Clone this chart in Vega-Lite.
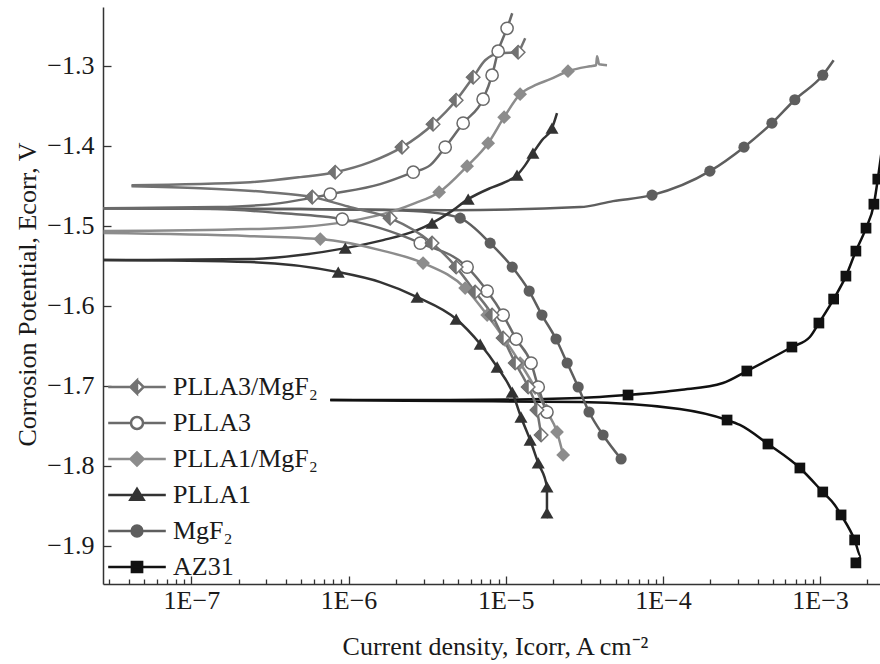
{
  "$schema": "https://vega.github.io/schema/vega-lite/v6.json",
  "width": 777,
  "height": 577,
  "autosize": {"type": "none"},
  "padding": {"left": 103, "top": 7, "right": 0, "bottom": 80},
  "background": "white",
  "config": {
    "view": {"stroke": null},
    "axis": {
      "labelFont": "Liberation Serif", "titleFont": "Liberation Serif",
      "labelFontSize": 26, "titleFontSize": 26, "titleFontWeight": "normal",
      "labelColor": "#1a1a1a", "titleColor": "#1a1a1a",
      "domainColor": "#333333", "tickColor": "#333333", "domainWidth": 1.5, "tickWidth": 1.3,
      "grid": false
    }
  },
  "datasets": {
    "lines": [
      {"series":"AZ31","branch":"a","i":0,"I":7.65e-7,"E":-1.7179},
      {"series":"AZ31","branch":"a","i":1,"I":4.43e-6,"E":-1.7179},
      {"series":"AZ31","branch":"a","i":2,"I":2.97e-5,"E":-1.7154},
      {"series":"AZ31","branch":"a","i":3,"I":6.00e-5,"E":-1.7116},
      {"series":"AZ31","branch":"a","i":4,"I":1.28e-4,"E":-1.7054},
      {"series":"AZ31","branch":"a","i":5,"I":2.41e-4,"E":-1.6966},
      {"series":"AZ31","branch":"a","i":6,"I":3.42e-4,"E":-1.6816},
      {"series":"AZ31","branch":"a","i":7,"I":6.62e-4,"E":-1.6516},
      {"series":"AZ31","branch":"a","i":8,"I":8.61e-4,"E":-1.6391},
      {"series":"AZ31","branch":"a","i":9,"I":9.83e-4,"E":-1.6216},
      {"series":"AZ31","branch":"a","i":10,"I":1.22e-3,"E":-1.5916},
      {"series":"AZ31","branch":"a","i":11,"I":1.46e-3,"E":-1.5629},
      {"series":"AZ31","branch":"a","i":12,"I":1.69e-3,"E":-1.5316},
      {"series":"AZ31","branch":"a","i":13,"I":1.96e-3,"E":-1.5029},
      {"series":"AZ31","branch":"a","i":14,"I":2.20e-3,"E":-1.4729},
      {"series":"AZ31","branch":"a","i":15,"I":2.33e-3,"E":-1.4416},
      {"series":"AZ31","branch":"a","i":16,"I":2.47e-3,"E":-1.4054},
      {"series":"AZ31","branch":"c","i":0,"I":7.65e-7,"E":-1.7179},
      {"series":"AZ31","branch":"c","i":1,"I":4.43e-6,"E":-1.7191},
      {"series":"AZ31","branch":"c","i":2,"I":2.97e-5,"E":-1.7204},
      {"series":"AZ31","branch":"c","i":3,"I":1.28e-4,"E":-1.7291},
      {"series":"AZ31","branch":"c","i":4,"I":2.56e-4,"E":-1.7429},
      {"series":"AZ31","branch":"c","i":5,"I":3.09e-4,"E":-1.7491},
      {"series":"AZ31","branch":"c","i":6,"I":4.66e-4,"E":-1.7729},
      {"series":"AZ31","branch":"c","i":7,"I":7.44e-4,"E":-1.8029},
      {"series":"AZ31","branch":"c","i":8,"I":1.04e-3,"E":-1.8329},
      {"series":"AZ31","branch":"c","i":9,"I":1.24e-3,"E":-1.8491},
      {"series":"AZ31","branch":"c","i":10,"I":1.36e-3,"E":-1.8616},
      {"series":"AZ31","branch":"c","i":11,"I":1.66e-3,"E":-1.8929},
      {"series":"AZ31","branch":"c","i":12,"I":1.82e-3,"E":-1.9141},
      {"series":"AZ31","branch":"c","i":13,"I":1.69e-3,"E":-1.9216},

      {"series":"MgF₂","branch":"a","i":0,"I":2.76e-8,"E":-1.4779},
      {"series":"MgF₂","branch":"a","i":1,"I":4.93e-7,"E":-1.4791},
      {"series":"MgF₂","branch":"a","i":2,"I":4.43e-6,"E":-1.4804},
      {"series":"MgF₂","branch":"a","i":3,"I":2.97e-5,"E":-1.4766},
      {"series":"MgF₂","branch":"a","i":4,"I":4.82e-5,"E":-1.4691},
      {"series":"MgF₂","branch":"a","i":5,"I":8.53e-5,"E":-1.4616},
      {"series":"MgF₂","branch":"a","i":6,"I":1.99e-4,"E":-1.4316},
      {"series":"MgF₂","branch":"a","i":7,"I":3.28e-4,"E":-1.4016},
      {"series":"MgF₂","branch":"a","i":8,"I":4.94e-4,"E":-1.3716},
      {"series":"MgF₂","branch":"a","i":9,"I":6.91e-4,"E":-1.3423},
      {"series":"MgF₂","branch":"a","i":10,"I":1.04e-3,"E":-1.3116},
      {"series":"MgF₂","branch":"a","i":11,"I":1.22e-3,"E":-1.2929},
      {"series":"MgF₂","branch":"c","i":0,"I":2.76e-8,"E":-1.4779},
      {"series":"MgF₂","branch":"c","i":1,"I":4.93e-7,"E":-1.4791},
      {"series":"MgF₂","branch":"c","i":2,"I":1.84e-6,"E":-1.4804},
      {"series":"MgF₂","branch":"c","i":3,"I":3.31e-6,"E":-1.4829},
      {"series":"MgF₂","branch":"c","i":4,"I":5.13e-6,"E":-1.4904},
      {"series":"MgF₂","branch":"c","i":5,"I":7.96e-6,"E":-1.5216},
      {"series":"MgF₂","branch":"c","i":6,"I":1.10e-5,"E":-1.5516},
      {"series":"MgF₂","branch":"c","i":7,"I":1.41e-5,"E":-1.5816},
      {"series":"MgF₂","branch":"c","i":8,"I":1.70e-5,"E":-1.6116},
      {"series":"MgF₂","branch":"c","i":9,"I":2.09e-5,"E":-1.6416},
      {"series":"MgF₂","branch":"c","i":10,"I":2.46e-5,"E":-1.6716},
      {"series":"MgF₂","branch":"c","i":11,"I":2.89e-5,"E":-1.7016},
      {"series":"MgF₂","branch":"c","i":12,"I":3.39e-5,"E":-1.7329},
      {"series":"MgF₂","branch":"c","i":13,"I":4.16e-5,"E":-1.7616},
      {"series":"MgF₂","branch":"c","i":14,"I":5.42e-5,"E":-1.7916},

      {"series":"PLLA1","branch":"a","i":0,"I":2.76e-8,"E":-1.5429},
      {"series":"PLLA1","branch":"a","i":1,"I":2.37e-7,"E":-1.5416},
      {"series":"PLLA1","branch":"a","i":2,"I":4.93e-7,"E":-1.5366},
      {"series":"PLLA1","branch":"a","i":3,"I":9.53e-7,"E":-1.5279},
      {"series":"PLLA1","branch":"a","i":4,"I":1.66e-6,"E":-1.5179},
      {"series":"PLLA1","branch":"a","i":5,"I":2.73e-6,"E":-1.5054},
      {"series":"PLLA1","branch":"a","i":6,"I":3.40e-6,"E":-1.4966},
      {"series":"PLLA1","branch":"a","i":7,"I":4.43e-6,"E":-1.4829},
      {"series":"PLLA1","branch":"a","i":8,"I":5.77e-6,"E":-1.4666},
      {"series":"PLLA1","branch":"a","i":9,"I":7.96e-6,"E":-1.4529},
      {"series":"PLLA1","branch":"a","i":10,"I":9.91e-6,"E":-1.4454},
      {"series":"PLLA1","branch":"a","i":11,"I":1.18e-5,"E":-1.4366},
      {"series":"PLLA1","branch":"a","i":12,"I":1.33e-5,"E":-1.4241},
      {"series":"PLLA1","branch":"a","i":13,"I":1.49e-5,"E":-1.4091},
      {"series":"PLLA1","branch":"a","i":14,"I":1.70e-5,"E":-1.3929},
      {"series":"PLLA1","branch":"a","i":15,"I":1.97e-5,"E":-1.3779},
      {"series":"PLLA1","branch":"a","i":16,"I":2.12e-5,"E":-1.3591},
      {"series":"PLLA1","branch":"c","i":0,"I":2.76e-8,"E":-1.5429},
      {"series":"PLLA1","branch":"c","i":1,"I":2.37e-7,"E":-1.5454},
      {"series":"PLLA1","branch":"c","i":2,"I":8.60e-7,"E":-1.5579},
      {"series":"PLLA1","branch":"c","i":3,"I":1.59e-6,"E":-1.5704},
      {"series":"PLLA1","branch":"c","i":4,"I":2.73e-6,"E":-1.5891},
      {"series":"PLLA1","branch":"c","i":5,"I":4.84e-6,"E":-1.6166},
      {"series":"PLLA1","branch":"c","i":6,"I":6.88e-6,"E":-1.6479},
      {"series":"PLLA1","branch":"c","i":7,"I":8.82e-6,"E":-1.6766},
      {"series":"PLLA1","branch":"c","i":8,"I":1.10e-5,"E":-1.7079},
      {"series":"PLLA1","branch":"c","i":9,"I":1.25e-5,"E":-1.7391},
      {"series":"PLLA1","branch":"c","i":10,"I":1.43e-5,"E":-1.7679},
      {"series":"PLLA1","branch":"c","i":11,"I":1.61e-5,"E":-1.7966},
      {"series":"PLLA1","branch":"c","i":12,"I":1.83e-5,"E":-1.8266},
      {"series":"PLLA1","branch":"c","i":13,"I":1.83e-5,"E":-1.8591},
      {"series":"PLLA1","branch":"c","i":14,"I":1.86e-5,"E":-1.8654},

      {"series":"PLLA1/MgF₂","branch":"a","i":0,"I":2.76e-8,"E":-1.5066},
      {"series":"PLLA1/MgF₂","branch":"a","i":1,"I":2.37e-7,"E":-1.5041},
      {"series":"PLLA1/MgF₂","branch":"a","i":2,"I":4.93e-7,"E":-1.5016},
      {"series":"PLLA1/MgF₂","branch":"a","i":3,"I":1.025e-6,"E":-1.4941},
      {"series":"PLLA1/MgF₂","branch":"a","i":4,"I":1.92e-6,"E":-1.4816},
      {"series":"PLLA1/MgF₂","branch":"a","i":5,"I":2.65e-6,"E":-1.4716},
      {"series":"PLLA1/MgF₂","branch":"a","i":6,"I":3.77e-6,"E":-1.4579},
      {"series":"PLLA1/MgF₂","branch":"a","i":7,"I":5.68e-6,"E":-1.4254},
      {"series":"PLLA1/MgF₂","branch":"a","i":8,"I":7.73e-6,"E":-1.3966},
      {"series":"PLLA1/MgF₂","branch":"a","i":9,"I":9.77e-6,"E":-1.3641},
      {"series":"PLLA1/MgF₂","branch":"a","i":10,"I":1.235e-5,"E":-1.3354},
      {"series":"PLLA1/MgF₂","branch":"a","i":11,"I":1.54e-5,"E":-1.3241},
      {"series":"PLLA1/MgF₂","branch":"a","i":12,"I":1.92e-5,"E":-1.3166},
      {"series":"PLLA1/MgF₂","branch":"a","i":13,"I":2.49e-5,"E":-1.3066},
      {"series":"PLLA1/MgF₂","branch":"a","i":14,"I":3.44e-5,"E":-1.3004},
      {"series":"PLLA1/MgF₂","branch":"a","i":15,"I":3.76e-5,"E":-1.2991},
      {"series":"PLLA1/MgF₂","branch":"a","i":16,"I":3.81e-5,"E":-1.2879},
      {"series":"PLLA1/MgF₂","branch":"a","i":17,"I":3.93e-5,"E":-1.2979},
      {"series":"PLLA1/MgF₂","branch":"a","i":18,"I":4.41e-5,"E":-1.2991},
      {"series":"PLLA1/MgF₂","branch":"c","i":0,"I":2.76e-8,"E":-1.5091},
      {"series":"PLLA1/MgF₂","branch":"c","i":1,"I":2.37e-7,"E":-1.5129},
      {"series":"PLLA1/MgF₂","branch":"c","i":2,"I":6.61e-7,"E":-1.5166},
      {"series":"PLLA1/MgF₂","branch":"c","i":3,"I":1.59e-6,"E":-1.5304},
      {"series":"PLLA1/MgF₂","branch":"c","i":4,"I":2.98e-6,"E":-1.5466},
      {"series":"PLLA1/MgF₂","branch":"c","i":5,"I":5.52e-6,"E":-1.5779},
      {"series":"PLLA1/MgF₂","branch":"c","i":6,"I":7.62e-6,"E":-1.6116},
      {"series":"PLLA1/MgF₂","branch":"c","i":7,"I":9.91e-6,"E":-1.6429},
      {"series":"PLLA1/MgF₂","branch":"c","i":8,"I":1.235e-5,"E":-1.6716},
      {"series":"PLLA1/MgF₂","branch":"c","i":9,"I":1.54e-5,"E":-1.7029},
      {"series":"PLLA1/MgF₂","branch":"c","i":10,"I":1.81e-5,"E":-1.7304},
      {"series":"PLLA1/MgF₂","branch":"c","i":11,"I":2.12e-5,"E":-1.7579},
      {"series":"PLLA1/MgF₂","branch":"c","i":12,"I":2.32e-5,"E":-1.7866},

      {"series":"PLLA3","branch":"a","i":0,"I":2.76e-8,"E":-1.4779},
      {"series":"PLLA3","branch":"a","i":1,"I":1.46e-7,"E":-1.4766},
      {"series":"PLLA3","branch":"a","i":2,"I":3.68e-7,"E":-1.4716},
      {"series":"PLLA3","branch":"a","i":3,"I":7.65e-7,"E":-1.4604},
      {"series":"PLLA3","branch":"a","i":4,"I":1.59e-6,"E":-1.4479},
      {"series":"PLLA3","branch":"a","i":5,"I":2.58e-6,"E":-1.4329},
      {"series":"PLLA3","branch":"a","i":6,"I":3.31e-6,"E":-1.4241},
      {"series":"PLLA3","branch":"a","i":7,"I":4.12e-6,"E":-1.4016},
      {"series":"PLLA3","branch":"a","i":8,"I":5.36e-6,"E":-1.3716},
      {"series":"PLLA3","branch":"a","i":9,"I":7.18e-6,"E":-1.3416},
      {"series":"PLLA3","branch":"a","i":10,"I":8.19e-6,"E":-1.3116},
      {"series":"PLLA3","branch":"a","i":11,"I":8.95e-6,"E":-1.2816},
      {"series":"PLLA3","branch":"a","i":12,"I":1.02e-5,"E":-1.2529},
      {"series":"PLLA3","branch":"a","i":13,"I":1.10e-5,"E":-1.2341},
      {"series":"PLLA3","branch":"c","i":0,"I":2.76e-8,"E":-1.4779},
      {"series":"PLLA3","branch":"c","i":1,"I":1.46e-7,"E":-1.4791},
      {"series":"PLLA3","branch":"c","i":2,"I":3.68e-7,"E":-1.4841},
      {"series":"PLLA3","branch":"c","i":3,"I":9.12e-7,"E":-1.4916},
      {"series":"PLLA3","branch":"c","i":4,"I":1.59e-6,"E":-1.5029},
      {"series":"PLLA3","branch":"c","i":5,"I":2.86e-6,"E":-1.5216},
      {"series":"PLLA3","branch":"c","i":6,"I":5.68e-6,"E":-1.5516},
      {"series":"PLLA3","branch":"c","i":7,"I":7.62e-6,"E":-1.5816},
      {"series":"PLLA3","branch":"c","i":8,"I":9.63e-6,"E":-1.6116},
      {"series":"PLLA3","branch":"c","i":9,"I":1.165e-5,"E":-1.6416},
      {"series":"PLLA3","branch":"c","i":10,"I":1.45e-5,"E":-1.6716},
      {"series":"PLLA3","branch":"c","i":11,"I":1.61e-5,"E":-1.7016},
      {"series":"PLLA3","branch":"c","i":12,"I":1.83e-5,"E":-1.7329},
      {"series":"PLLA3","branch":"c","i":13,"I":1.92e-5,"E":-1.7404},

      {"series":"PLLA3/MgF₂","branch":"a","i":0,"I":4.16e-8,"E":-1.4491},
      {"series":"PLLA3/MgF₂","branch":"a","i":1,"I":2.37e-7,"E":-1.4454},
      {"series":"PLLA3/MgF₂","branch":"a","i":2,"I":4.93e-7,"E":-1.4391},
      {"series":"PLLA3/MgF₂","branch":"a","i":3,"I":8.23e-7,"E":-1.4329},
      {"series":"PLLA3/MgF₂","branch":"a","i":4,"I":1.37e-6,"E":-1.4204},
      {"series":"PLLA3/MgF₂","branch":"a","i":5,"I":2.19e-6,"E":-1.4016},
      {"series":"PLLA3/MgF₂","branch":"a","i":6,"I":3.45e-6,"E":-1.3729},
      {"series":"PLLA3/MgF₂","branch":"a","i":7,"I":4.84e-6,"E":-1.3429},
      {"series":"PLLA3/MgF₂","branch":"a","i":8,"I":6.21e-6,"E":-1.3141},
      {"series":"PLLA3/MgF₂","branch":"a","i":9,"I":7.40e-6,"E":-1.2929},
      {"series":"PLLA3/MgF₂","branch":"a","i":10,"I":9.21e-6,"E":-1.2841},
      {"series":"PLLA3/MgF₂","branch":"a","i":11,"I":1.20e-5,"E":-1.2829},
      {"series":"PLLA3/MgF₂","branch":"a","i":12,"I":1.27e-5,"E":-1.2741},
      {"series":"PLLA3/MgF₂","branch":"a","i":13,"I":1.33e-5,"E":-1.2654},
      {"series":"PLLA3/MgF₂","branch":"c","i":0,"I":4.16e-8,"E":-1.4504},
      {"series":"PLLA3/MgF₂","branch":"c","i":1,"I":1.14e-7,"E":-1.4529},
      {"series":"PLLA3/MgF₂","branch":"c","i":2,"I":3.04e-7,"E":-1.4579},
      {"series":"PLLA3/MgF₂","branch":"c","i":3,"I":5.88e-7,"E":-1.4641},
      {"series":"PLLA3/MgF₂","branch":"c","i":4,"I":1.025e-6,"E":-1.4766},
      {"series":"PLLA3/MgF₂","branch":"c","i":5,"I":1.84e-6,"E":-1.4904},
      {"series":"PLLA3/MgF₂","branch":"c","i":6,"I":3.40e-6,"E":-1.5216},
      {"series":"PLLA3/MgF₂","branch":"c","i":7,"I":4.84e-6,"E":-1.5516},
      {"series":"PLLA3/MgF₂","branch":"c","i":8,"I":6.39e-6,"E":-1.5829},
      {"series":"PLLA3/MgF₂","branch":"c","i":9,"I":8.19e-6,"E":-1.6116},
      {"series":"PLLA3/MgF₂","branch":"c","i":10,"I":9.63e-6,"E":-1.6404},
      {"series":"PLLA3/MgF₂","branch":"c","i":11,"I":1.15e-5,"E":-1.6716},
      {"series":"PLLA3/MgF₂","branch":"c","i":12,"I":1.39e-5,"E":-1.7016},
      {"series":"PLLA3/MgF₂","branch":"c","i":13,"I":1.58e-5,"E":-1.7304},
      {"series":"PLLA3/MgF₂","branch":"c","i":14,"I":1.68e-5,"E":-1.7616}
    ],
    "markers": [
      {"series":"AZ31","I":6.00e-5,"E":-1.7116},{"series":"AZ31","I":3.42e-4,"E":-1.6816},{"series":"AZ31","I":6.62e-4,"E":-1.6516},{"series":"AZ31","I":9.83e-4,"E":-1.6216},{"series":"AZ31","I":1.22e-3,"E":-1.5916},{"series":"AZ31","I":1.46e-3,"E":-1.5629},{"series":"AZ31","I":1.69e-3,"E":-1.5316},{"series":"AZ31","I":1.96e-3,"E":-1.5029},{"series":"AZ31","I":2.20e-3,"E":-1.4729},{"series":"AZ31","I":2.33e-3,"E":-1.4416},
      {"series":"AZ31","I":2.56e-4,"E":-1.7429},{"series":"AZ31","I":4.66e-4,"E":-1.7729},{"series":"AZ31","I":7.44e-4,"E":-1.8029},{"series":"AZ31","I":1.04e-3,"E":-1.8329},{"series":"AZ31","I":1.36e-3,"E":-1.8616},{"series":"AZ31","I":1.66e-3,"E":-1.8929},{"series":"AZ31","I":1.69e-3,"E":-1.9216},
      {"series":"MgF₂","I":8.53e-5,"E":-1.4616},{"series":"MgF₂","I":1.99e-4,"E":-1.4316},{"series":"MgF₂","I":3.28e-4,"E":-1.4016},{"series":"MgF₂","I":4.94e-4,"E":-1.3716},{"series":"MgF₂","I":6.91e-4,"E":-1.3423},{"series":"MgF₂","I":1.04e-3,"E":-1.3116},
      {"series":"MgF₂","I":5.13e-6,"E":-1.4904},{"series":"MgF₂","I":7.96e-6,"E":-1.5216},{"series":"MgF₂","I":1.10e-5,"E":-1.5516},{"series":"MgF₂","I":1.41e-5,"E":-1.5816},{"series":"MgF₂","I":1.70e-5,"E":-1.6116},{"series":"MgF₂","I":2.09e-5,"E":-1.6416},{"series":"MgF₂","I":2.46e-5,"E":-1.6716},{"series":"MgF₂","I":2.89e-5,"E":-1.7016},{"series":"MgF₂","I":3.39e-5,"E":-1.7329},{"series":"MgF₂","I":4.16e-5,"E":-1.7616},{"series":"MgF₂","I":5.42e-5,"E":-1.7916},
      {"series":"PLLA1","I":9.53e-7,"E":-1.5279},{"series":"PLLA1","I":3.40e-6,"E":-1.4966},{"series":"PLLA1","I":5.77e-6,"E":-1.4666},{"series":"PLLA1","I":1.18e-5,"E":-1.4366},{"series":"PLLA1","I":1.49e-5,"E":-1.4091},{"series":"PLLA1","I":1.97e-5,"E":-1.3779},
      {"series":"PLLA1","I":8.60e-7,"E":-1.5579},{"series":"PLLA1","I":2.73e-6,"E":-1.5891},{"series":"PLLA1","I":4.84e-6,"E":-1.6166},{"series":"PLLA1","I":6.88e-6,"E":-1.6479},{"series":"PLLA1","I":8.82e-6,"E":-1.6766},{"series":"PLLA1","I":1.10e-5,"E":-1.7079},{"series":"PLLA1","I":1.25e-5,"E":-1.7391},{"series":"PLLA1","I":1.43e-5,"E":-1.7679},{"series":"PLLA1","I":1.61e-5,"E":-1.7966},{"series":"PLLA1","I":1.83e-5,"E":-1.8266},{"series":"PLLA1","I":1.83e-5,"E":-1.8591},
      {"series":"PLLA1/MgF₂","I":3.77e-6,"E":-1.4579},{"series":"PLLA1/MgF₂","I":5.68e-6,"E":-1.4254},{"series":"PLLA1/MgF₂","I":7.73e-6,"E":-1.3966},{"series":"PLLA1/MgF₂","I":9.77e-6,"E":-1.3641},{"series":"PLLA1/MgF₂","I":1.235e-5,"E":-1.3354},{"series":"PLLA1/MgF₂","I":2.49e-5,"E":-1.3066},
      {"series":"PLLA1/MgF₂","I":6.61e-7,"E":-1.5166},{"series":"PLLA1/MgF₂","I":2.98e-6,"E":-1.5466},{"series":"PLLA1/MgF₂","I":5.52e-6,"E":-1.5779},{"series":"PLLA1/MgF₂","I":7.62e-6,"E":-1.6116},{"series":"PLLA1/MgF₂","I":9.91e-6,"E":-1.6429},{"series":"PLLA1/MgF₂","I":1.235e-5,"E":-1.6716},{"series":"PLLA1/MgF₂","I":1.54e-5,"E":-1.7029},{"series":"PLLA1/MgF₂","I":1.81e-5,"E":-1.7304},{"series":"PLLA1/MgF₂","I":2.12e-5,"E":-1.7579},{"series":"PLLA1/MgF₂","I":2.32e-5,"E":-1.7866},
      {"series":"PLLA3","I":7.65e-7,"E":-1.4604},{"series":"PLLA3","I":2.58e-6,"E":-1.4329},{"series":"PLLA3","I":4.12e-6,"E":-1.4016},{"series":"PLLA3","I":5.36e-6,"E":-1.3716},{"series":"PLLA3","I":7.18e-6,"E":-1.3416},{"series":"PLLA3","I":8.19e-6,"E":-1.3116},{"series":"PLLA3","I":8.95e-6,"E":-1.2816},{"series":"PLLA3","I":1.02e-5,"E":-1.2529},
      {"series":"PLLA3","I":9.12e-7,"E":-1.4916},{"series":"PLLA3","I":2.86e-6,"E":-1.5216},{"series":"PLLA3","I":5.68e-6,"E":-1.5516},{"series":"PLLA3","I":7.62e-6,"E":-1.5816},{"series":"PLLA3","I":9.63e-6,"E":-1.6116},{"series":"PLLA3","I":1.165e-5,"E":-1.6416},{"series":"PLLA3","I":1.45e-5,"E":-1.6716},{"series":"PLLA3","I":1.61e-5,"E":-1.7016},{"series":"PLLA3","I":1.83e-5,"E":-1.7329},
      {"series":"PLLA3/MgF₂","I":8.23e-7,"E":-1.4329},{"series":"PLLA3/MgF₂","I":2.19e-6,"E":-1.4016},{"series":"PLLA3/MgF₂","I":3.45e-6,"E":-1.3729},{"series":"PLLA3/MgF₂","I":4.84e-6,"E":-1.3429},{"series":"PLLA3/MgF₂","I":6.21e-6,"E":-1.3141},{"series":"PLLA3/MgF₂","I":1.20e-5,"E":-1.2829},
      {"series":"PLLA3/MgF₂","I":5.88e-7,"E":-1.4641},{"series":"PLLA3/MgF₂","I":1.84e-6,"E":-1.4904},{"series":"PLLA3/MgF₂","I":3.40e-6,"E":-1.5216},{"series":"PLLA3/MgF₂","I":4.84e-6,"E":-1.5516},{"series":"PLLA3/MgF₂","I":6.39e-6,"E":-1.5829},{"series":"PLLA3/MgF₂","I":8.19e-6,"E":-1.6116},{"series":"PLLA3/MgF₂","I":9.63e-6,"E":-1.6404},{"series":"PLLA3/MgF₂","I":1.15e-5,"E":-1.6716},{"series":"PLLA3/MgF₂","I":1.39e-5,"E":-1.7016},{"series":"PLLA3/MgF₂","I":1.58e-5,"E":-1.7304},{"series":"PLLA3/MgF₂","I":1.68e-5,"E":-1.7616}
    ]
  },
  "encoding": {
    "x": {
      "field": "I", "type": "quantitative",
      "scale": {"type": "log", "domain": [2.74e-8, 2.406e-3], "nice": false},
      "axis": {
        "title": "Current density, Icorr, A cm⁻²",
        "values": [3e-8,4e-8,5e-8,6e-8,7e-8,8e-8,9e-8,1e-7,2e-7,3e-7,4e-7,5e-7,6e-7,7e-7,8e-7,9e-7,1e-6,2e-6,3e-6,4e-6,5e-6,6e-6,7e-6,8e-6,9e-6,1e-5,2e-5,3e-5,4e-5,5e-5,6e-5,7e-5,8e-5,9e-5,1e-4,2e-4,3e-4,4e-4,5e-4,6e-4,7e-4,8e-4,9e-4,1e-3,2e-3],
        "labelExpr": "abs(log(datum.value)/LN10 - round(log(datum.value)/LN10)) < 0.001 ? '1E−' + (-round(log(datum.value)/LN10)) : ''",
        "tickSize": {"condition": {"test": "abs(log(datum.value)/LN10 - round(log(datum.value)/LN10)) < 0.001", "value": -8}, "value": -5},
        "labelOverlap": false, "labelFlush": false, "labelPadding": 11,
        "titleX": 392, "titleY": 70, "titleBaseline": "alphabetic", "titleAnchor": "middle"
      }
    },
    "y": {
      "field": "E", "type": "quantitative",
      "scale": {"domain": [-1.948, -1.2263], "nice": false, "zero": false},
      "axis": {
        "title": "Corrosion Potential, Ecorr, V",
        "values": [-1.9,-1.8,-1.7,-1.6,-1.5,-1.4,-1.3],
        "format": ".1f",
        "tickSize": -8, "labelPadding": 17,
        "titleX": -68, "titleY": 287, "titleBaseline": "alphabetic", "titleAngle": -90
      }
    }
  },
  "layer": [
    {
      "data": {"name": "lines"},
      "mark": {"type": "line", "strokeWidth": 2.5, "clip": true, "interpolate": "monotone"},
      "encoding": {
        "detail": {"field": "branch"},
        "order": {"field": "i", "type": "quantitative"},
        "color": {
          "field": "series", "type": "nominal",
          "scale": {"domain": ["PLLA3/MgF₂","PLLA3","PLLA1/MgF₂","PLLA1","MgF₂","AZ31"], "range": ["#727272","#6a6a6a","#8c8c8c","#333333","#5e5e5e","#111111"]},
          "legend": {
            "orient": "none", "legendX": 21, "legendY": 367, "title": null, "padding": 0,
            "labelFont": "Liberation Serif", "labelFontSize": 26, "labelColor": "#1a1a1a",
            "labelOffset": 23, "symbolSize": 144, "rowPadding": 10, "labelLimit": 400,
            "symbolStrokeWidth": 2.5,
            "encode": {
              "symbols": {
                "update": {
                  "shape": {"signal": "datum.value==='AZ31'?'M-4.8,0H4.8M-0.85,-0.85H0.85V0.85H-0.85Z':datum.value==='MgF₂'?'M-4.8,0H4.8M-0.9,0A0.9,0.9,0,1,1,0.9,0A0.9,0.9,0,1,1,-0.9,0Z':datum.value==='PLLA1'?'M-4.8,0H4.8M0,-1L-1.1,0.8H1.1Z':datum.value==='PLLA1/MgF₂'?'M-4.8,0H4.8M0,-1.1L-1.1,0L0,1.1L1.1,0Z':datum.value==='PLLA3'?'M-4.8,0H-1M1,0H4.8M-1,0A1,1,0,1,1,1,0A1,1,0,1,1,-1,0Z':'M-4.8,0H-1.1M1.1,0H4.8M0,-1.1L-1.1,0L0,1.1ZM0,-1.1L1.1,0L0,1.1L1.1,0Z'"},
                  "fill": {"signal": "datum.value==='AZ31'?'#111111':datum.value==='MgF₂'?'#5e5e5e':datum.value==='PLLA1'?'#333333':datum.value==='PLLA1/MgF₂'?'#8c8c8c':datum.value==='PLLA3'?'#ffffff':'#727272'"},
                  "strokeWidth": {"value": 2.5},
                  "opacity": {"value": 1}
                }
              }
            }
          }
        }
      }
    },
    {
      "data": {"name": "markers"},
      "transform": [{"filter": "datum.series === 'AZ31'"}],
      "mark": {"type": "point", "shape": "square", "filled": true, "color": "#111111", "size": 115, "opacity": 1, "clip": true}
    },
    {
      "data": {"name": "markers"},
      "transform": [{"filter": "datum.series === 'MgF₂'"}],
      "mark": {"type": "point", "shape": "circle", "filled": true, "color": "#5e5e5e", "size": 125, "opacity": 1, "clip": true}
    },
    {
      "data": {"name": "markers"},
      "transform": [{"filter": "datum.series === 'PLLA1'"}],
      "mark": {"type": "point", "shape": "triangle-up", "filled": true, "color": "#333333", "size": 170, "opacity": 1, "clip": true}
    },
    {
      "data": {"name": "markers"},
      "transform": [{"filter": "datum.series === 'PLLA1/MgF₂'"}],
      "mark": {"type": "point", "shape": "diamond", "filled": true, "color": "#8c8c8c", "size": 190, "opacity": 1, "clip": true}
    },
    {
      "data": {"name": "markers"},
      "transform": [{"filter": "datum.series === 'PLLA3'"}],
      "mark": {"type": "point", "shape": "circle", "filled": true, "fill": "#ffffff", "stroke": "#6a6a6a", "strokeWidth": 1.5, "size": 150, "opacity": 1, "clip": true}
    },
    {
      "data": {"name": "markers"},
      "transform": [{"filter": "datum.series === 'PLLA3/MgF₂'"}],
      "mark": {"type": "point", "shape": "diamond", "filled": true, "fill": "#ffffff", "stroke": "#727272", "strokeWidth": 1.5, "size": 180, "opacity": 1, "clip": true}
    },
    {
      "data": {"name": "markers"},
      "transform": [{"filter": "datum.series === 'PLLA3/MgF₂'"}],
      "mark": {"type": "point", "shape": "M0,-1L-1,0L0,1Z", "filled": true, "fill": "#727272", "stroke": "#727272", "strokeWidth": 1, "size": 180, "opacity": 1, "clip": true}
    }
  ]
}
